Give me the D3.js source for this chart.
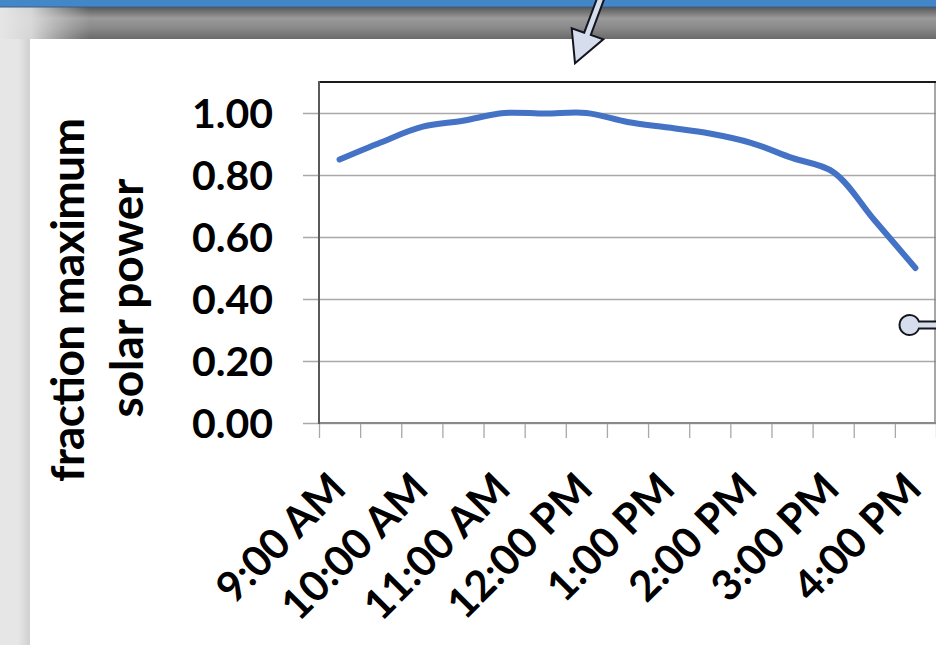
<!DOCTYPE html>
<html>
<head>
<meta charset="utf-8">
<script src="https://cdn.jsdelivr.net/npm/d3@7"></script>
<style>
  html, body { margin: 0; padding: 0; background: #e6e6e6; }
  svg { display: block; }
  text { font-family: Lato, "Open Sans", "Liberation Sans", sans-serif; font-weight: 700; fill: #000; }
</style>
</head>
<body>
<svg id="chart" width="936" height="645"></svg>
<script>
// Half-hour readings between 9:00 AM and 4:00 PM
const categories = [
  "9:00 AM", "9:30 AM", "10:00 AM", "10:30 AM", "11:00 AM", "11:30 AM",
  "12:00 PM", "12:30 PM", "1:00 PM", "1:30 PM", "2:00 PM", "2:30 PM",
  "3:00 PM", "3:30 PM", "4:00 PM"
];
// Fraction of the maximum solar power at each reading
const powerFraction = [
  0.85, 0.905, 0.955, 0.975, 1.00, 0.998, 1.00, 0.971,
  0.953, 0.934, 0.904, 0.855, 0.81, 0.655, 0.50
];
// Axis ticks
const yTicks = [0, 0.2, 0.4, 0.6, 0.8, 1.0];
const xTickLabels = ["9:00 AM", "10:00 AM", "11:00 AM", "12:00 PM", "1:00 PM", "2:00 PM", "3:00 PM", "4:00 PM"];
const yTitleLines = ["fraction maximum", "solar power"];

const svg = d3.select("#chart");
const W = 936, H = 645;
const plot = { left: 319, right: 936, top: 82, bottom: 423 };
const plotW = plot.right - plot.left;

// ---- window chrome behind the chart ----
const defs = svg.append("defs");
const band = defs.append("linearGradient").attr("id", "band").attr("x1", 0).attr("y1", 0).attr("x2", 0).attr("y2", 1);
band.append("stop").attr("offset", "0%").attr("stop-color", "#575757");
band.append("stop").attr("offset", "35%").attr("stop-color", "#9a9a9a");
band.append("stop").attr("offset", "65%").attr("stop-color", "#8a8a8a");
band.append("stop").attr("offset", "100%").attr("stop-color", "#6a6a6a");
const fadeL = defs.append("linearGradient").attr("id", "fadeL").attr("x1", 0).attr("y1", 0).attr("x2", 1).attr("y2", 0);
fadeL.append("stop").attr("offset", "0%").attr("stop-color", "#e6e6e6").attr("stop-opacity", 1);
fadeL.append("stop").attr("offset", "35%").attr("stop-color", "#e0e0e0").attr("stop-opacity", 0.9);
fadeL.append("stop").attr("offset", "100%").attr("stop-color", "#cccccc").attr("stop-opacity", 0);
const edge = defs.append("linearGradient").attr("id", "edge").attr("x1", 0).attr("y1", 0).attr("x2", 1).attr("y2", 0);
edge.append("stop").attr("offset", "0%").attr("stop-color", "#e6e6e6");
edge.append("stop").attr("offset", "100%").attr("stop-color", "#d0d0d0");

svg.append("rect").attr("width", W).attr("height", H).attr("fill", "#e6e6e6");
svg.append("rect").attr("x", 18).attr("y", 39).attr("width", 12).attr("height", H - 39).attr("fill", "url(#edge)");
svg.append("rect").attr("x", 0).attr("y", 7).attr("width", W).attr("height", 32).attr("fill", "url(#band)");
svg.append("rect").attr("x", 0).attr("y", 7).attr("width", 90).attr("height", 32).attr("fill", "url(#fadeL)");
svg.append("rect").attr("x", 0).attr("y", 0).attr("width", W).attr("height", 7).attr("fill", "#4387c8");
svg.append("rect").attr("x", 0).attr("y", 6).attr("width", W).attr("height", 2).attr("fill", "#3a5f86").attr("opacity", 0.5);

// chart sheet
svg.append("rect").attr("x", 30).attr("y", 39).attr("width", W - 30).attr("height", H - 39).attr("fill", "#ffffff");

// ---- scales ----
const y = d3.scaleLinear().domain([0, 1.1]).range([plot.bottom, plot.top]);
const x = d3.scaleBand().domain(categories).range([plot.left, plot.right]).paddingInner(0).paddingOuter(0);
const xIdx = d3.scaleLinear().domain([0, categories.length]).range([plot.left, plot.right]);
const cx = c => x(c) + x.bandwidth() / 2;

// ---- y axis with gridlines ----
const yAxis = svg.append("g")
  .attr("transform", `translate(${plot.left},0)`)
  .call(d3.axisLeft(y).tickValues(yTicks).tickFormat(d3.format(".2f"))
    .tickSizeInner(-plotW).tickSizeOuter(0).tickPadding(46));
yAxis.select(".domain").remove();
yAxis.selectAll(".tick line")
  .attr("x1", -16)
  .attr("stroke", "#a9a9a9").attr("stroke-width", 1.3);
yAxis.selectAll(".tick text")
  .style("font-size", "41px").attr("dy", "0.36em");

// ---- x axis tick marks between categories ----
const xAxis = svg.append("g")
  .attr("transform", `translate(0,${plot.bottom})`)
  .call(d3.axisBottom(xIdx).tickValues(d3.range(categories.length + 1))
    .tickFormat("").tickSizeInner(15).tickSizeOuter(0));
xAxis.select(".domain").remove();
xAxis.selectAll(".tick line").attr("stroke", "#a9a9a9").attr("stroke-width", 1.3);

// plot frame
svg.append("line").attr("x1", plot.left).attr("x2", plot.right).attr("y1", plot.bottom).attr("y2", plot.bottom)
  .attr("stroke", "#8a8a8a").attr("stroke-width", 2);
svg.append("line").attr("x1", plot.right - 1).attr("x2", plot.right - 1).attr("y1", plot.top).attr("y2", plot.bottom)
  .attr("stroke", "#8a8a8a").attr("stroke-width", 1.5);
svg.append("line").attr("x1", plot.left).attr("x2", plot.right).attr("y1", plot.top).attr("y2", plot.top)
  .attr("stroke", "#1a1a1a").attr("stroke-width", 2);
svg.append("line").attr("x1", plot.left).attr("x2", plot.left).attr("y1", plot.top - 1).attr("y2", plot.bottom + 1)
  .attr("stroke", "#595959").attr("stroke-width", 2);

// ---- x tick labels (rotated) ----
svg.append("g").selectAll("text")
  .data(xTickLabels)
  .join("text")
  .attr("text-anchor", "end")
  .attr("transform", d => `translate(${cx(d) + 8.5},491) rotate(-45)`)
  .style("font-size", "42px")
  .text(d => d);

// ---- y axis title ----
const titleX = [84, 143], titleLen = [364, 239], titleY = [300, 298];
svg.append("g").selectAll("text")
  .data(yTitleLines)
  .join("text")
  .attr("text-anchor", "middle")
  .attr("transform", (d, i) => `translate(${titleX[i]},${titleY[i]}) rotate(-90)`)
  .attr("textLength", (d, i) => titleLen[i])
  .attr("lengthAdjust", "spacing")
  .style("font-size", "46px")
  .text(d => d);

// ---- series line ----
const line = d3.line()
  .x((d, i) => cx(categories[i]))
  .y(d => y(d))
  .curve(d3.curveCatmullRom.alpha(0.5));
svg.append("path")
  .datum(powerFraction)
  .attr("d", line)
  .attr("fill", "none")
  .attr("stroke", "#4472c4")
  .attr("stroke-width", 6)
  .attr("stroke-linecap", "round")
  .attr("stroke-linejoin", "round");

// ---- pointer arrow at the top ----
svg.append("path")
  .attr("d", "M598.7,-6 L605.3,-4 L590.8,34.9 L603.3,39.3 L575,63.3 L571.7,28.3 L584.2,32.7 Z")
  .attr("fill", "#d6ddec").attr("stroke", "#15151f").attr("stroke-width", 2).attr("stroke-linejoin", "miter");

// ---- connector handle on the right ----
svg.append("path")
  .attr("d", "M940,321.5 L918.9,321.5 A10,10 0 1 0 918.9,328.5 L940,328.5 Z")
  .attr("fill", "#d6ddec").attr("stroke", "#15151f").attr("stroke-width", 2);
</script>
</body>
</html>
